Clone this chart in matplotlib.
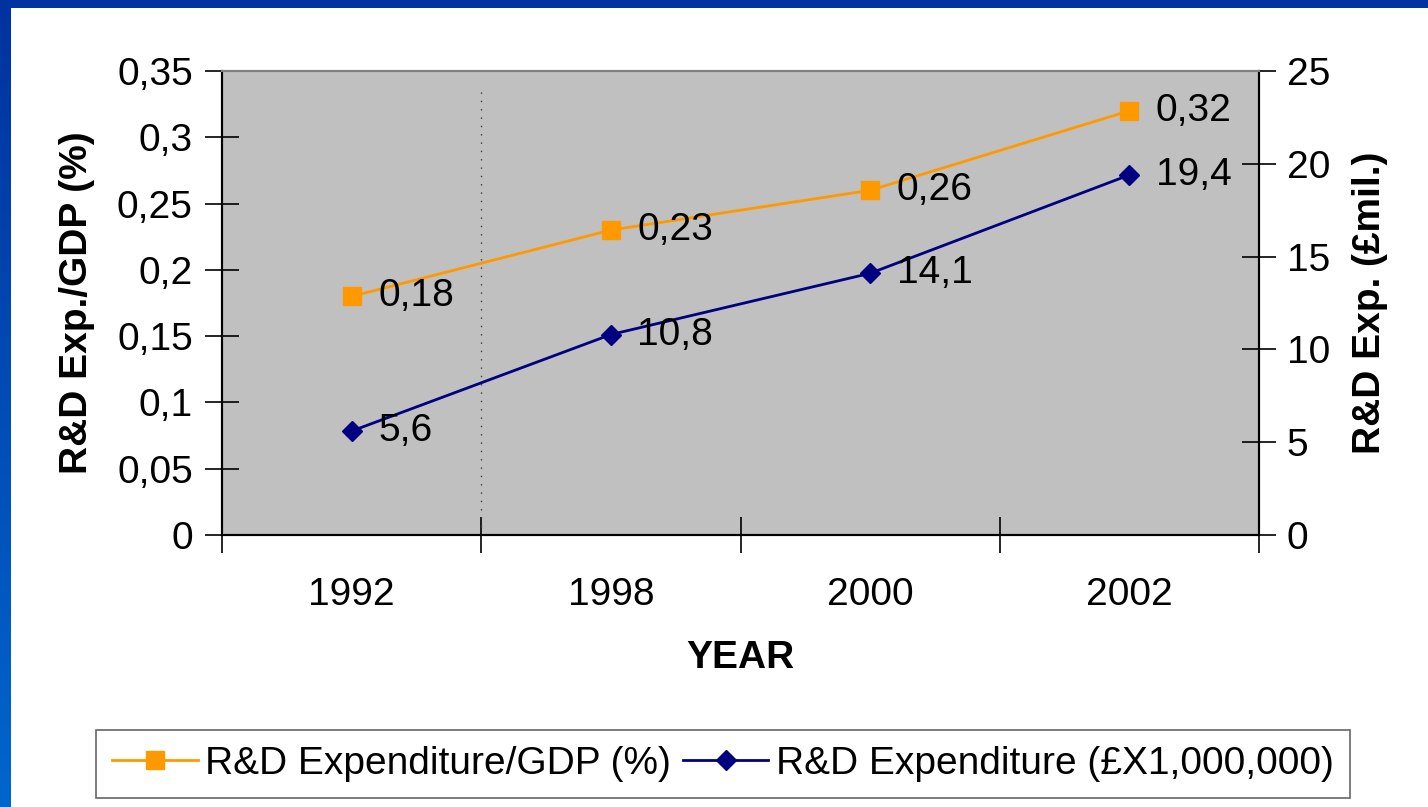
import matplotlib
matplotlib.use('Agg')
import matplotlib.pyplot as plt
import numpy as np
from matplotlib.patches import Rectangle
from matplotlib.ticker import FuncFormatter, FixedLocator

plt.rcParams['font.family'] = ['Liberation Sans', 'DejaVu Sans']

years = ['1992', '1998', '2000', '2002']
gdp_share = [0.18, 0.23, 0.26, 0.32]
expenditure = [5.6, 10.8, 14.1, 19.4]
gdp_labels = ['0,18', '0,23', '0,26', '0,32']
exp_labels = ['5,6', '10,8', '14,1', '19,4']

ORANGE = '#FF9900'
NAVY = '#000080'
FS = 28


def comma(v, pos=None):
  return f"{v:g}".replace('.', ',')


fig = plt.figure(figsize=(14.28, 8.07), dpi=100)

# blue slide frame
fig.add_artist(Rectangle((0, 1 - 8 / 807), 1, 8 / 807, transform=fig.transFigure,
                         color='#0033A0', lw=0, zorder=0))
grad = fig.add_axes([0, 0, 11 / 1428, 1 - 8 / 807])
grad.imshow(np.linspace(0, 1, 256).reshape(-1, 1), aspect='auto',
            cmap=matplotlib.colors.LinearSegmentedColormap.from_list('b', ['#0033A0', '#0066CC']))
grad.axis('off')

ax = fig.add_axes([222 / 1428, 1 - 535 / 807, (1259 - 222) / 1428, (535 - 71) / 807])
ax.set_facecolor('#C0C0C0')
ax2 = ax.twinx()

x = np.arange(len(years))
ax.plot(x, gdp_share, color=ORANGE, marker='s', markersize=13, lw=2, zorder=3,
        label='R&D Expenditure/GDP (%)')
ax2.plot(x, expenditure, color=NAVY, marker='D', markersize=10, lw=2, zorder=3,
         label='R&D Expenditure (£X1,000,000)')

for xi, v, t in zip(x, gdp_share, gdp_labels):
  ax.annotate(t, (xi, v), xytext=(19, 0), textcoords='offset points',
              ha='left', va='center', fontsize=FS)
for xi, v, t in zip(x, expenditure, exp_labels):
  ax2.annotate(t, (xi, v), xytext=(19, 0), textcoords='offset points',
               ha='left', va='center', fontsize=FS)

ax.set_xlim(-0.5, 3.5)
ax.set_ylim(0, 0.35)
ax2.set_ylim(0, 25)
ax.set_yticks(np.arange(0, 0.351, 0.05))
ax2.set_yticks(range(0, 26, 5))
ax.yaxis.set_major_formatter(FuncFormatter(comma))

ax.xaxis.set_major_locator(FixedLocator([-0.5, 0.5, 1.5, 2.5, 3.5]))
ax.xaxis.set_minor_locator(FixedLocator(x))
ax.set_xticklabels([])
ax.set_xticklabels(years, minor=True)
ax.tick_params(axis='x', which='major', direction='inout', length=26, width=1.2)
ax.tick_params(axis='x', which='minor', length=0, labelsize=FS, pad=30)
ax.tick_params(axis='y', direction='inout', length=24, width=1.2, labelsize=FS, pad=9)
ax2.tick_params(axis='y', direction='inout', length=24, width=1.2, labelsize=FS, pad=8)

ax.axvline(0.5, ymin=0, ymax=0.955, color='#404040', lw=1, ls=(0, (1, 5)))

for a in (ax, ax2):
  a.spines['top'].set_color('#808080')
  a.spines['top'].set_linewidth(1.5)
  for s in ('left', 'right', 'bottom'):
    a.spines[s].set_linewidth(1.5)

ax.set_ylabel('R&D Exp./GDP (%)', fontsize=FS, fontweight='bold', labelpad=16)
ax2.set_ylabel('R&D Exp. (£mil.)', fontsize=FS, fontweight='bold', rotation=90, labelpad=16)
ax.set_xlabel('YEAR', fontsize=FS, fontweight='bold', labelpad=20)

h1, l1 = ax.get_legend_handles_labels()
h2, l2 = ax2.get_legend_handles_labels()
leg = fig.legend(h1 + h2, l1 + l2, loc='center', bbox_to_anchor=(723 / 1428, 1 - 764 / 807),
                 ncol=2, fontsize=FS, frameon=True, fancybox=False, edgecolor='#404040',
                 handlelength=2.2, columnspacing=0.3, handletextpad=0.2, borderpad=0.4,
                 borderaxespad=0)
leg.get_frame().set_linewidth(1.2)

fig.savefig('out.png', dpi=100)
